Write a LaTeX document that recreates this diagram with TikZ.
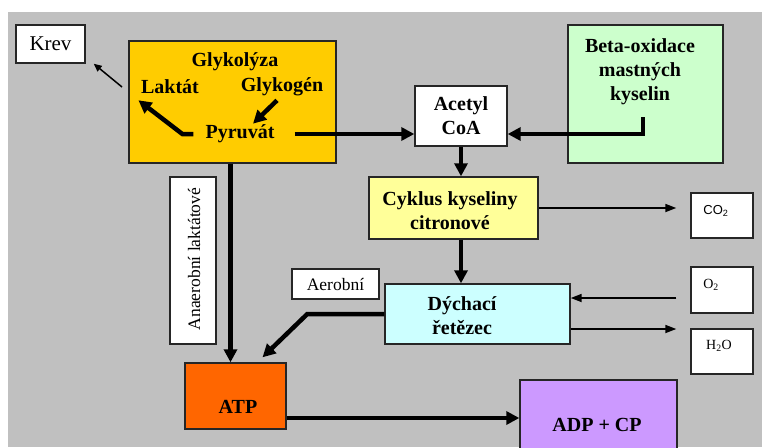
\documentclass[tikz,border=0pt]{standalone}
\usepackage{fontspec}
\setmainfont{Liberation Serif}
\newfontfamily\sansf{Liberation Sans}
\usetikzlibrary{arrows.meta}
\definecolor{bggray}{HTML}{C0C0C0}
\definecolor{gold}{HTML}{FFCC00}
\definecolor{mint}{HTML}{CCFFCC}
\definecolor{lemon}{HTML}{FFFF99}
\definecolor{aqua}{HTML}{CCFFFF}
\definecolor{orng}{HTML}{FF6600}
\definecolor{lilac}{HTML}{CC99FF}
\begin{document}
\begin{tikzpicture}[x=1pt,y=-1pt,
 box/.style={draw=black!85,line width=1.4pt,inner sep=0pt},
 lbl/.style={font=\fontsize{20}{24}\selectfont\bfseries,align=center,inner sep=0pt},
 small/.style={font=\fontsize{17.5}{20}\selectfont,inner sep=0pt},
 tiny/.style={font=\fontsize{14}{16}\selectfont,inner sep=0pt},
 heavy/.style={line width=4.5pt,-{Triangle[length=13pt,width=13pt]}},
 light/.style={line width=1.7pt,-{Triangle[length=11pt,width=8pt]}},
]
\useasboundingbox (0,0) rectangle (762,447);
\fill[white] (0,0) rectangle (762,447);
\fill[bggray] (8,12) rectangle (762,447);

% boxes
\node[box,fill=white,minimum width=69pt,minimum height=38pt,font=\fontsize{21}{23}\selectfont] (krev) at (50.5,44) {Krev};
\node[box,fill=gold,minimum width=207pt,minimum height=122pt] (glyk) at (232.5,102) {};
\node[lbl] (glyt) at (235,62) {Glykolýza};
\node[lbl] (lak) at (170,87) {Laktát};
\node[lbl] (gen) at (282,87) {Glykogén};
\node[lbl] (pyr) at (240,134) {Pyruvát};

\node[box,fill=white,minimum width=92pt,minimum height=60pt,lbl] (acoa) at (461,116) {Acetyl\\CoA};
\node[box,fill=mint,minimum width=155pt,minimum height=138pt] (beta) at (645.5,94) {};
\node[lbl] (betat) at (640,72) {Beta-oxidace\\mastných\\kyselin};
\coordinate (betaout) at (643,117);

\node[box,fill=lemon,minimum width=169pt,minimum height=62pt] (cyk) at (453.5,208) {};
\node[lbl] (cykt) at (450,211) {Cyklus kyseliny\\citronové};

\node[box,fill=aqua,minimum width=185pt,minimum height=60pt] (dych) at (477.5,314) {};
\node[lbl] (dycht) at (462,316) {Dýchací\\řetězec};

\node[box,fill=white,minimum width=87pt,minimum height=30pt,small] (aer) at (335.5,284) {Aerobní};
\node[box,fill=white,minimum width=46pt,minimum height=167pt] (anaer) at (193,260.5) {};
\node[small,rotate=90] (anaert) at (194,259) {Anaerobní laktátové};

\node[box,fill=orng,minimum width=101pt,minimum height=66pt] (atp) at (235.5,396) {};
\node[lbl] (atpt) at (238,407) {ATP};
\node[box,fill=lilac,minimum width=157pt,minimum height=70pt] (adp) at (598.5,415) {};
\node[lbl] (adpt) at (597,425) {ADP + CP};

\node[box,fill=white,minimum width=62pt,minimum height=45pt] (co2) at (722,215.5) {};
\node[inner sep=0pt,font=\sansf\fontsize{13}{15}\selectfont] (co2t) at (716,211) {CO\textsubscript{2}};
\node[box,fill=white,minimum width=62pt,minimum height=46pt] (o2) at (722,290) {};
\node[tiny] (o2t) at (711,285) {O\textsubscript{2}};
\node[box,fill=white,minimum width=62pt,minimum height=45pt] (h2o) at (722,351.5) {};
\node[tiny] (h2ot) at (719,346) {H\textsubscript{2}O};

% connectors
\coordinate (krevfrom) at (122,87);
\draw[line width=1.5pt,-{Triangle[length=8pt,width=7pt]}] (krevfrom) -- ([xshift=8pt]krev.south east);
\draw[heavy] ([xshift=-12pt]pyr.west) -- ++(-11,0) -- ([xshift=-2.5pt,yshift=-6pt]lak.south west);
\draw[heavy] ([xshift=-5pt,yshift=-4pt]gen.south) -- ([xshift=13pt,yshift=1pt]pyr.north);
\draw[heavy] ([xshift=20pt]pyr.east) -- (pyr.east -| acoa.west);
\draw[heavy] (betaout) |- (pyr.east -| acoa.east);
\draw[heavy] (acoa.south) -- (acoa.south |- cyk.north);
\draw[heavy] (acoa.south |- cyk.south) -- (acoa.south |- dych.north);
\draw[light,shorten >=14pt] (cyk.east) -- (cyk.east -| co2.west);
\draw[light,shorten <=14pt] ([yshift=-8pt]o2.west) -- ([yshift=-8pt]o2.west -| dych.east);
\draw[light,shorten >=14pt] ([yshift=-15pt]dych.east) -- ([yshift=-15pt]dych.east -| h2o.west);
\draw[heavy] (dych.west) -- ++(-77,0) -- ([xshift=27pt,yshift=5pt]atp.north);
\draw[heavy] ([xshift=-2pt]glyk.south) -- ([xshift=-2pt]glyk.south |- atp.north);
\draw[heavy] ([yshift=-22pt]atp.east) -- ([yshift=-22pt]atp.east -| adp.west);
\end{tikzpicture}
\end{document}
